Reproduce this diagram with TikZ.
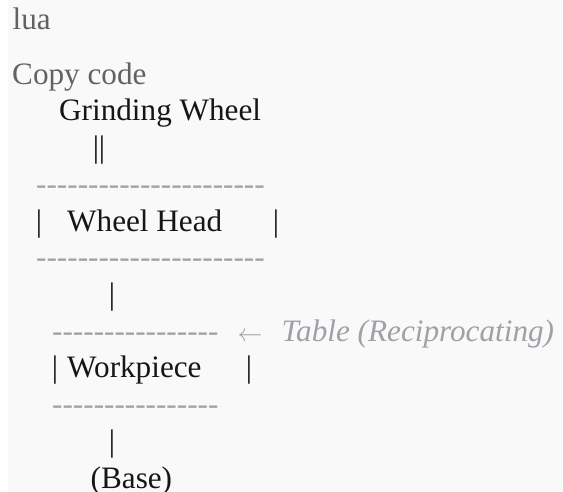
\documentclass[tikz,border=0pt]{standalone}
\usepackage{fontspec}
\setmainfont{Liberation Serif}[Ligatures=TeXOff]
\definecolor{pagegray}{RGB}{249,249,249}
\definecolor{hdrgray}{RGB}{98,98,98}
\definecolor{cmtgray}{RGB}{160,161,167}
\definecolor{codeink}{RGB}{22,22,22}
\tikzset{
	txt/.style={inner sep=0pt, anchor=base west, font=\fontsize{31.2pt}{36pt}\selectfont},
	hdr/.style={txt, text=hdrgray},
	code/.style={txt, text=codeink},
	cmt/.style={txt, text=cmtgray, font=\fontsize{31.2pt}{36pt}\selectfont\itshape},
	bar/.style={code, anchor=base}
}
\begin{document}
\begin{tikzpicture}[x=1pt, y=-1pt]
		\useasboundingbox (0,0) rectangle (563,492);
		\fill[white] (0,0) rectangle (8,492);
		\fill[pagegray] (8,0) rectangle (563,492);
		
		\node[hdr] (lang) at (12.5,29.5) {lua};
		\node[hdr] (copy) at (12,85) {Copy code};
		
		\node[code] (wheel) at (59,121) {Grinding Wheel};
		\node[bar] (spindle) at (99,157.7) {||};
		
		\node[cmt] (headtop) at (36,194.4) {----------------------};
		\node[bar] (headl) at (39,231.1) {|};
		\node[code] (head) at (67,231.1) {Wheel Head};
		\node[bar] (headr) at (276,231.1) {|};
		\node[cmt] (headbot) at (36,267.8) {----------------------};
		\node[bar] (post) at (112,304.5) {|};
		
		\node[cmt] (tabletop) at (52,341.2) {----------------};
		\node[cmt, font=\fontsize{33pt}{36pt}\selectfont] (arrow) at (237.5,341.2) {$\leftarrow$};
		\node[cmt] (table) at (281.5,341.2) {Table (Reciprocating)};
		\node[bar] (workl) at (55,377.9) {|};
		\node[code] (work) at (67,377.9) {Workpiece};
		\node[bar] (workr) at (249,377.9) {|};
		\node[cmt] (tablebot) at (52,414.6) {----------------};
		\node[bar] (leg) at (112,451.3) {|};
		\node[code] (base) at (90.5,488) {(Base)};
	\end{tikzpicture}
\end{document}
